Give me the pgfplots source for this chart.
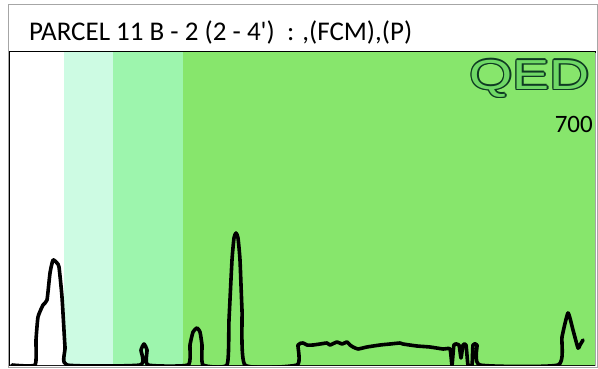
\documentclass[border=0pt]{standalone}
\usepackage{pgfplots}
\pgfplotsset{compat=1.18}
\usepackage{fontspec}
\setmainfont{Carlito}
\newfontfamily\qedfont{Liberation Sans}
\definecolor{mint}{HTML}{CDFBE3}
\definecolor{lgreen}{HTML}{9DF5AD}
\definecolor{mgreen}{HTML}{87E66C}
\definecolor{qedfill}{HTML}{6FD866}
\definecolor{qeddark}{HTML}{0E3A22}
\begin{document}
\begin{tikzpicture}[x=1pt,y=1pt]
\useasboundingbox (0,0) rectangle (598,368);
% outer frame and title box
\draw[gray!70, line width=1pt] (8,1) rectangle (597,364);
\fill[white] (8.5,318) rectangle (596.5,363.5);
\node[anchor=base west, inner sep=0pt, font=\fontsize{27}{30}\selectfont] at (29,328) {PARCEL 11 B - 2 (2 - 4\textquotesingle)\ \ : ,(FCM),(P)};
\begin{axis}[
  at={(10pt,3pt)}, anchor=south west,
  scale only axis, width=585pt, height=313pt,
  xmin=10, xmax=595, ymin=0, ymax=313,
  axis line style={black, line width=1.2pt},
  xtick=\empty, ytick=\empty,
  clip=true,
]
\addplot[fill=white, draw=none] coordinates {(10,0)(64,0)(64,313)(10,313)} \closedcycle;
\addplot[fill=mint, draw=none] coordinates {(64,0)(113,0)(113,313)(64,313)} \closedcycle;
\addplot[fill=lgreen, draw=none] coordinates {(113,0)(183,0)(183,313)(113,313)} \closedcycle;
\addplot[fill=mgreen, draw=none] coordinates {(183,0)(595,0)(595,313)(183,313)} \closedcycle;
\addplot[black, line width=3.6pt, line join=round, line cap=round, smooth, tension=0.3] table {
x y
12 0
35 0
36 25
38 48
43 60
47 65
50 92
53 105
57 102
59 98
62 68
65 18
67 0
140 0
141 15
144 21
147 15
148 0
188 0
190 20
193 33
197 37
200 33
202 20
203 0
227 0
229 45
232 105
234 127
236 132
238 127
240 105
242 55
245 0
297 0
298 20
303 22
307 20
313 20
320 21
327 22
330 20
337 23
342 21
347 23
350 20
353 18
358 16
367 18
380 20
390 21
400 22
403 21
417 19
430 18
443 16
450 16
452 0
454 20
459 20
461 7
463 20
466 20
468 0
472 0
473 20
477 20
480 0
558 0
562 28
568 52
573 35
578 17
580 20
583 25
};
\end{axis}
% right border
\draw[gray!70, line width=1pt] (595.5,2) -- (595.5,315);
% QED logo (outlined)
\foreach \dx/\dy in {-1.4/0,1.4/0,0/-1.4,0/1.4,-1/-1,1/1,-1/1,1/-1}{
  \node[anchor=base east, inner sep=0pt, font=\fontsize{42}{44}\qedfont, text=qeddark, xshift=\dx pt, yshift=\dy pt] at (590,279) {\scalebox{1.32}[1]{QED}};
}
\node[anchor=base east, inner sep=0pt, font=\fontsize{42}{44}\qedfont, text=qedfill] at (590,279) {\scalebox{1.32}[1]{QED}};
\node[anchor=base east, inner sep=0pt, font=\fontsize{25}{28}\selectfont] at (593,236) {700};
\end{tikzpicture}
\end{document}
